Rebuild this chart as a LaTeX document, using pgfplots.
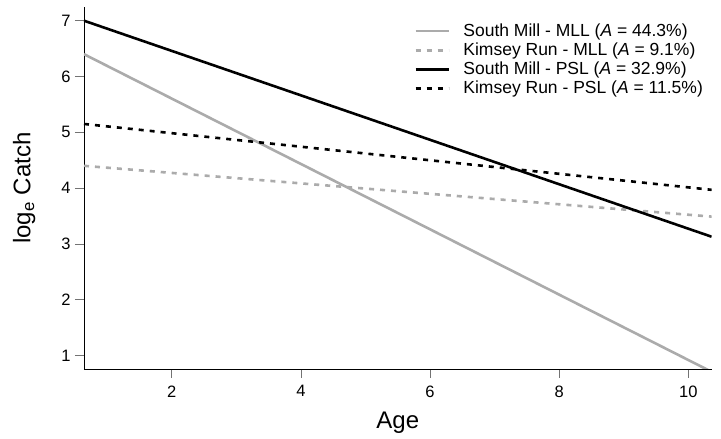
\documentclass[border=0pt]{standalone}
\usepackage{fontspec}
\setmainfont{Liberation Sans}
\usepackage{pgfplots}
\pgfplotsset{compat=1.18}
\definecolor{lgrey}{HTML}{ABABAB}
\begin{document}
\begin{tikzpicture}
\useasboundingbox (-84pt,-70pt) rectangle (637pt,369pt);
\begin{axis}[
    scale only axis,
    width=627.6pt, height=361.7pt,
    xmin=0.64, xmax=10.36, ymin=0.76, ymax=7.24,
    axis x line*=bottom, axis y line*=left,
    axis line style={-, line width=0.8pt},
    xtick={2,4,6,8,10}, ytick={1,2,3,4,5,6,7},
    tick align=outside, major tick length=9pt,
    tick style={black!55, line width=0.8pt},
    /pgf/number format/assume math mode=true,
    ticklabel style={font=\fontsize{16.5}{16.5}\selectfont},
    xticklabel style={yshift=-4pt},
    yticklabel style={xshift=-1pt},
    xlabel={Age}, ylabel={log\textsubscript{e} Catch},
    label style={font=\fontsize{24}{24}\selectfont},
    xlabel style={yshift=-8pt},
    ylabel style={yshift=19pt},
    clip=true,
    legend style={at={(0.526,0.96)}, anchor=north west, draw=none, fill=none,
        font=\fontsize{17.5}{17.5}\selectfont, row sep=1pt, inner sep=0pt,
        nodes={inner sep=1.5pt, text depth=0.25em},
        /tikz/every odd column/.append style={column sep=12pt}},
    legend cell align=left,
    legend image code/.code={\draw[#1] (0pt,0pt) -- (33pt,0pt);},
]
\addplot[lgrey, line width=2.6pt] coordinates {(0.64,6.40) (10.36,0.71)};
\addlegendentry{South Mill - MLL (\textit{A}~= 44.3\%)}
\addplot[lgrey, line width=2.6pt, dash pattern=on 5pt off 6pt] coordinates {(0.64,4.40) (10.36,3.49)};
\addlegendentry{Kimsey Run - MLL (\textit{A}~= 9.1\%)}
\addplot[black, line width=2.6pt] coordinates {(0.64,7.00) (10.36,3.13)};
\addlegendentry{South Mill - PSL (\textit{A}~= 32.9\%)}
\addplot[black, line width=2.6pt, dash pattern=on 5pt off 6pt] coordinates {(0.64,5.15) (10.36,3.97)};
\addlegendentry{Kimsey Run - PSL (\textit{A}~= 11.5\%)}
\end{axis}
\end{tikzpicture}
\end{document}
